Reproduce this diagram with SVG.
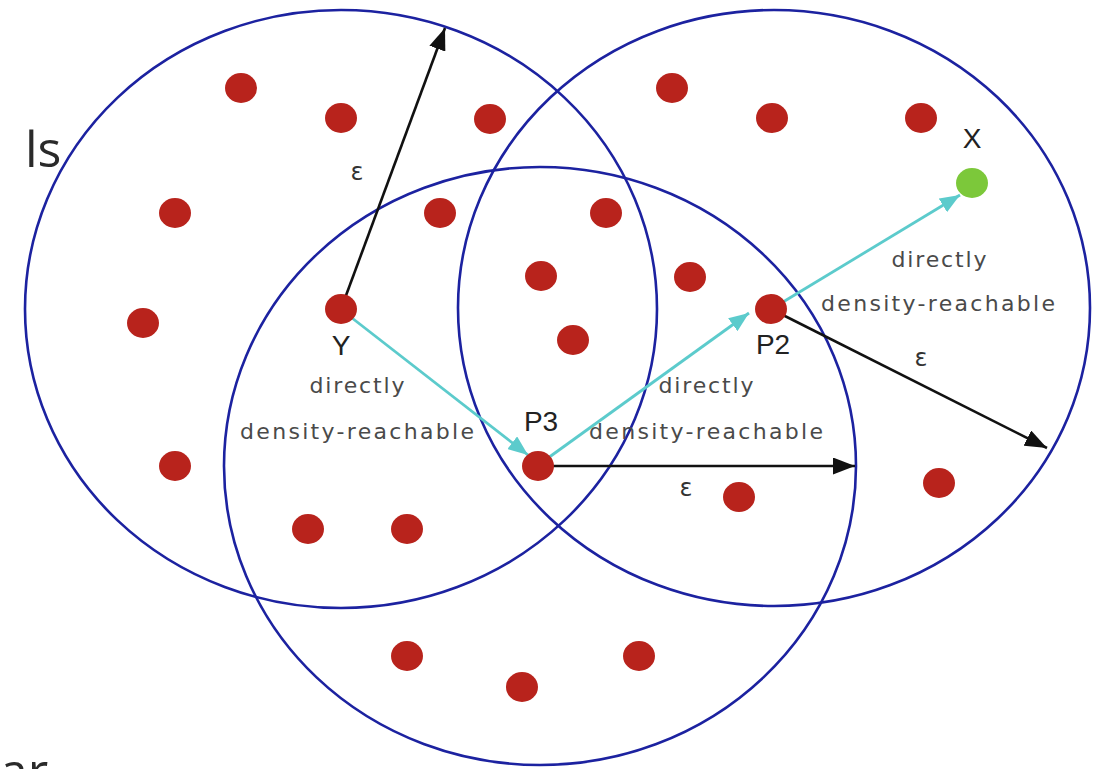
<svg xmlns="http://www.w3.org/2000/svg" width="1099" height="769" viewBox="0 0 1099 769">
  <defs>
    <style>
      .ring { fill: none; stroke: #1c22a0; stroke-width: 2.6; }
      .dot { fill: #b8231c; }
      .green { fill: #7cc83a; }
      .blk { stroke: #111; stroke-width: 2.6; fill: none; marker-end: url(#ahb); }
      .cy { stroke: #5ccbcc; stroke-width: 2.8; fill: none; marker-end: url(#ahc); }
      .lbl { font-family: "Liberation Sans", Arial, sans-serif; font-size: 28px; fill: #222; text-anchor: middle; }
      .eps { font-family: "DejaVu Sans", sans-serif; font-size: 24px; fill: #333; text-anchor: middle; }
      .dr { font-family: "DejaVu Sans", sans-serif; font-size: 22px; fill: #4a4a4a; text-anchor: middle; }
      .side { font-family: "Open Sans", sans-serif; font-size: 50px; fill: #2a2a2a; }
    </style>
    <marker id="ahb" viewBox="0 0 10 10" refX="10" refY="5" markerWidth="22" markerHeight="17" markerUnits="userSpaceOnUse" orient="auto" preserveAspectRatio="none">
      <path d="M0,0 L10,5 L0,10 z" fill="#111"/>
    </marker>
    <marker id="ahc" viewBox="0 0 10 10" refX="10" refY="5" markerWidth="20" markerHeight="16" markerUnits="userSpaceOnUse" orient="auto" preserveAspectRatio="none">
      <path d="M0,0 L10,5 L0,10 z" fill="#5ccbcc"/>
    </marker>
  </defs>
  <rect width="1099" height="769" fill="#fff"/>

  <text class="side" x="25" y="167">ls</text>
  <text class="side" x="0" y="789">ar</text>

  <g id="circles">
    <ellipse id="circle-left" class="ring" cx="341" cy="309" rx="316" ry="299"/>
    <ellipse id="circle-right" class="ring" cx="774" cy="308" rx="316" ry="298"/>
    <ellipse id="circle-bottom" class="ring" cx="540" cy="466" rx="316" ry="299"/>
  </g>

  <g id="connectors">
    <line class="blk" x1="341" y1="309" x2="445" y2="28"/>
    <line class="blk" x1="538" y1="466" x2="855" y2="466"/>
    <line class="blk" x1="771" y1="309" x2="1047" y2="448"/>
    <line class="cy" x1="352" y1="318" x2="528" y2="455"/>
    <line class="cy" x1="548" y1="458" x2="749" y2="313"/>
    <line class="cy" x1="783" y1="302" x2="960" y2="195"/>
  </g>

  <g id="points">
    <ellipse class="dot" cx="241" cy="88" rx="16" ry="15"/>
    <ellipse class="dot" cx="341" cy="118" rx="16" ry="15"/>
    <ellipse class="dot" cx="490" cy="119" rx="16" ry="15"/>
    <ellipse class="dot" cx="175" cy="213" rx="16" ry="15"/>
    <ellipse class="dot" cx="440" cy="213" rx="16" ry="15"/>
    <ellipse class="dot" cx="606" cy="213" rx="16" ry="15"/>
    <ellipse class="dot" cx="143" cy="323" rx="16" ry="15"/>
    <ellipse class="dot" cx="541" cy="276" rx="16" ry="15"/>
    <ellipse class="dot" cx="690" cy="277" rx="16" ry="15"/>
    <ellipse class="dot" cx="573" cy="340" rx="16" ry="15"/>
    <ellipse class="dot" cx="175" cy="466" rx="16" ry="15"/>
    <ellipse class="dot" cx="739" cy="497" rx="16" ry="15"/>
    <ellipse class="dot" cx="939" cy="483" rx="16" ry="15"/>
    <ellipse class="dot" cx="308" cy="529" rx="16" ry="15"/>
    <ellipse class="dot" cx="407" cy="529" rx="16" ry="15"/>
    <ellipse class="dot" cx="407" cy="656" rx="16" ry="15"/>
    <ellipse class="dot" cx="522" cy="687" rx="16" ry="15"/>
    <ellipse class="dot" cx="639" cy="656" rx="16" ry="15"/>
    <ellipse class="dot" cx="672" cy="88" rx="16" ry="15"/>
    <ellipse class="dot" cx="772" cy="118" rx="16" ry="15"/>
    <ellipse class="dot" cx="921" cy="118" rx="16" ry="15"/>
  </g>

  <g id="node-Y">
    <ellipse class="dot" cx="341" cy="309" rx="16" ry="15"/>
    <text class="lbl" x="341" y="355">Y</text>
  </g>
  <g id="node-P3">
    <ellipse class="dot" cx="538" cy="466" rx="16" ry="15"/>
    <text class="lbl" x="541" y="431">P3</text>
  </g>
  <g id="node-P2">
    <ellipse class="dot" cx="771" cy="309" rx="16" ry="15"/>
    <text class="lbl" x="773" y="354">P2</text>
  </g>
  <g id="node-X">
    <ellipse class="green" cx="972" cy="183" rx="16" ry="15"/>
    <text class="lbl" x="972" y="148">X</text>
  </g>

  <g id="labels">
    <text class="eps" x="357" y="180">ε</text>
    <text class="eps" x="686" y="496">ε</text>
    <text class="eps" x="921" y="366">ε</text>
    <text class="dr" x="357" y="393" textLength="95" lengthAdjust="spacing">directly</text>
    <text class="dr" x="357" y="439" textLength="234" lengthAdjust="spacing">density-reachable</text>
    <text class="dr" x="706" y="393" textLength="95" lengthAdjust="spacing">directly</text>
    <text class="dr" x="706" y="439" textLength="234" lengthAdjust="spacing">density-reachable</text>
    <text class="dr" x="939" y="267" textLength="95" lengthAdjust="spacing">directly</text>
    <text class="dr" x="938" y="311" textLength="234" lengthAdjust="spacing">density-reachable</text>
  </g>
</svg>
